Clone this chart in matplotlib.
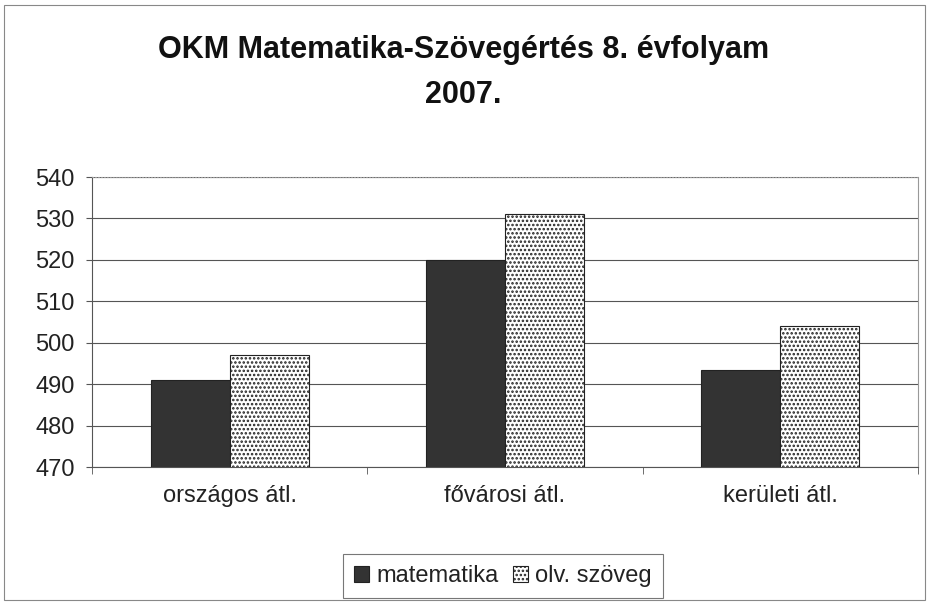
import numpy as np
import matplotlib
matplotlib.use("Agg")
import matplotlib.pyplot as plt
from matplotlib.patches import Rectangle

plt.rcParams['font.family'] = ['Liberation Sans', 'DejaVu Sans']
plt.rcParams['hatch.color'] = '#2a2a2a'
plt.rcParams['hatch.linewidth'] = 1.2

categories = ['országos átl.', 'fővárosi átl.', 'kerületi átl.']
matematika = [491, 520, 493.5]
olv_szoveg = [497, 531, 504]
yticks = [470, 480, 490, 500, 510, 520, 530, 540]

fig = plt.figure(figsize=(9.27, 6.02), dpi=100)
ax = fig.add_axes([92/927, 1 - 467/602, 826/927, 290/602])

x = np.arange(len(categories))
w = 0.287
ax.bar(x - w/2, matematika, w, color='#333333', edgecolor='#222222',
       linewidth=0.8, label='matematika', zorder=3)
ax.bar(x + w/2, olv_szoveg, w, color='white', edgecolor='#222222', hatch='....',
       linewidth=0.8, label='olv. szöveg', zorder=3)

ax.set_xlim(-0.5, 2.5)
ax.set_ylim(470, 540)
ax.set_yticks(yticks)
ax.set_yticklabels([str(v) for v in yticks], fontsize=17, color='#222222')
ax.yaxis.grid(True, color='#555555', linewidth=0.8, zorder=0)
ax.set_xticks(x)
ax.set_xticklabels(categories, fontsize=17, color='#222222')
ax.tick_params(axis='x', length=0, pad=13)
ax.set_xticks([-0.5, 0.5, 1.5, 2.5], minor=True)
ax.tick_params(axis='x', which='minor', length=5, color='#555555', direction='out')
ax.tick_params(axis='y', length=4.5, color='#555555', direction='out', pad=8)
for s in ['top', 'right']:
    ax.spines[s].set_color('#999999')
    ax.spines[s].set_linewidth(0.8)
ax.spines['top'].set_linestyle(':')
for s in ['left', 'bottom']:
    ax.spines[s].set_color('#555555')
    ax.spines[s].set_linewidth(0.8)

fig.text(0.5, 1 - 50/602, 'OKM Matematika-Szövegértés 8. évfolyam', ha='center',
         va='center', fontsize=22, fontweight='bold', color='#111111')
fig.text(0.5, 1 - 95/602, '2007.', ha='center', va='center', fontsize=22,
         fontweight='bold', color='#111111')

leg = fig.legend(loc='center', bbox_to_anchor=(503/927, 1 - 576/602), ncol=2,
                 fontsize=17, frameon=True, fancybox=False, edgecolor='#555555',
                 handlelength=0.65, handleheight=0.65, handletextpad=0.3,
                 columnspacing=0.6, borderpad=0.45)
leg.get_frame().set_linewidth(0.8)
for t in leg.get_texts():
    t.set_color('#222222')

fig.patches.append(Rectangle((0.004, 0.004), 0.994, 0.988, transform=fig.transFigure,
                             fill=False, edgecolor='#888888', linewidth=0.8))

fig.savefig('out.png', dpi=100)
